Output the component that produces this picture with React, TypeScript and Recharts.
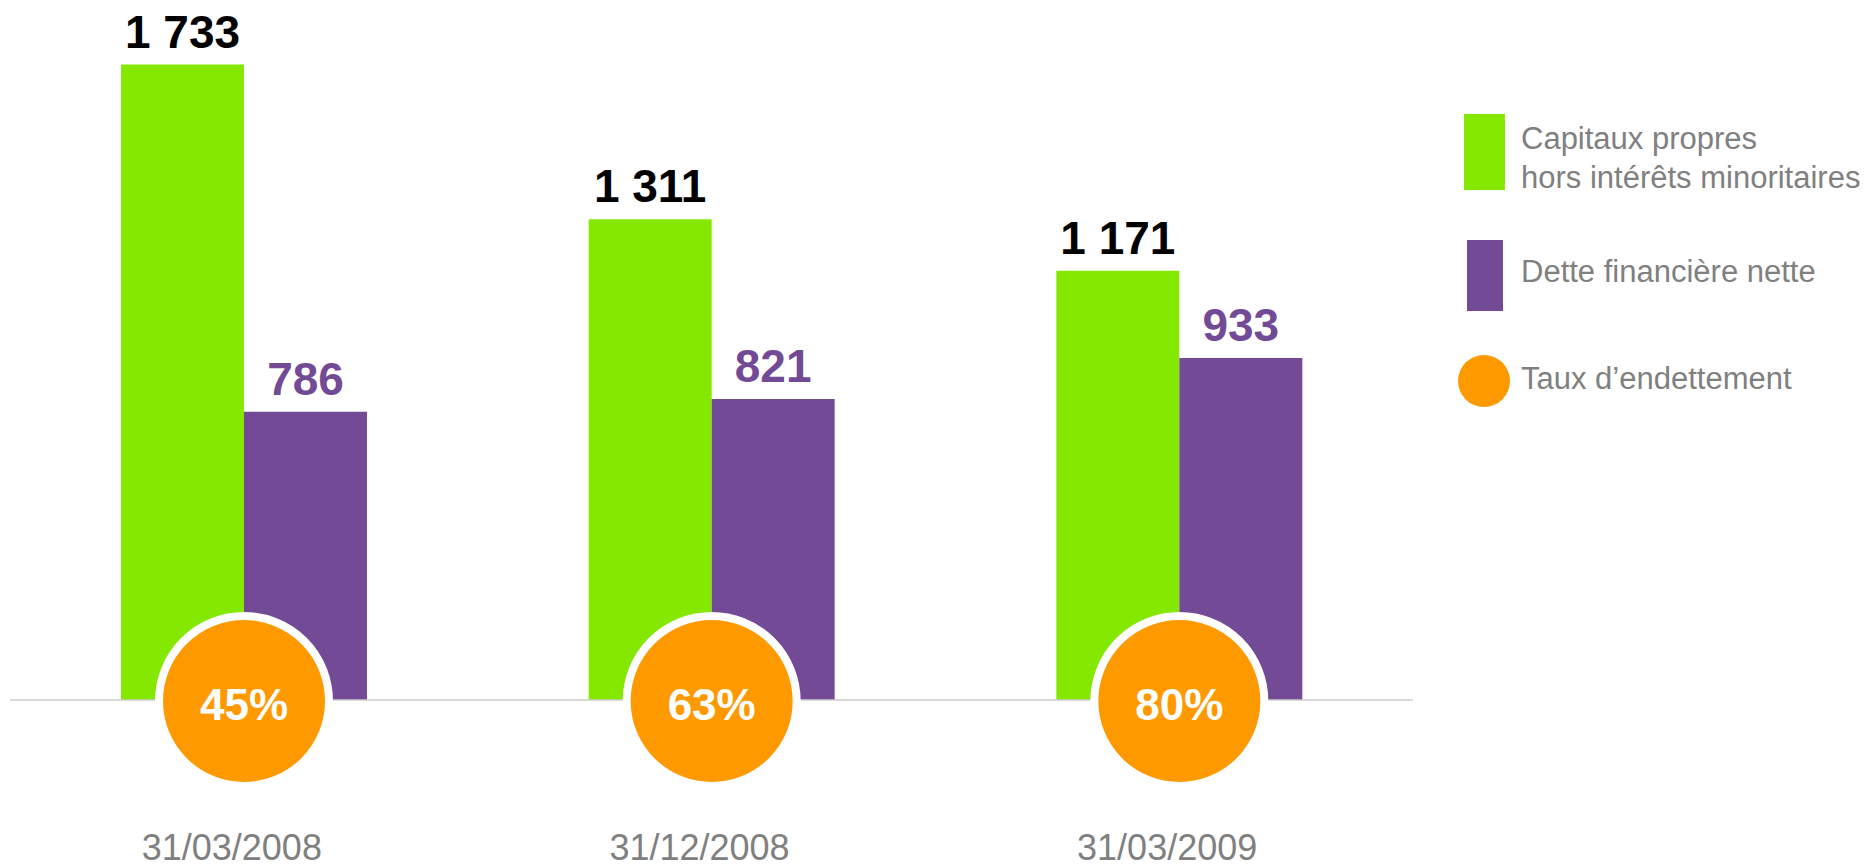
import { BarChart, Bar, XAxis, YAxis, LabelList, Legend } from 'recharts';

const categories = ['31/03/2008', '31/12/2008', '31/03/2009'];
const capitauxPropres = [1733, 1311, 1171];
const detteNette = [786, 821, 933];
const tauxEndettement = [45, 63, 80];
const legendLabels = [
  ['Capitaux propres', 'hors intérêts minoritaires'],
  ['Dette financière nette'],
  ['Taux d’endettement'],
];

const GREEN = '#84e800';
const PURPLE = '#724a95';
const ORANGE = '#ff9900';
const GREY = '#808080';
const FONT = '"Liberation Sans", Arial, sans-serif';

const data = categories.map((date, i) => ({
  date,
  capitaux: capitauxPropres[i],
  dette: detteNette[i],
  taux: tauxEndettement[i],
}));

const fmt = (v: number) => String(v).replace(/\B(?=(\d{3})+(?!\d))/g, ' ');

function ValueLabel({ x, y, width, value, color }: any) {
  return (
    <text
      x={Number(x) + Number(width) / 2}
      y={Number(y) - 17}
      textAnchor="middle"
      fill={color}
      fontSize={46}
      fontWeight="bold"
      fontFamily={FONT}
    >
      {fmt(Number(value))}
    </text>
  );
}

function TauxBubble({ x, y, height, value }: any) {
  const cx = Number(x);
  const cy = Number(y) + Number(height) + 1;
  return (
    <g>
      <circle cx={cx} cy={cy} r={85} fill={ORANGE} stroke="#fff" strokeWidth={8} />
      <text
        x={cx}
        y={cy + 19}
        textAnchor="middle"
        fill="#fff"
        fontSize={44}
        fontWeight="bold"
        fontFamily={FONT}
      >
        {value}%
      </text>
    </g>
  );
}

function DateTick({ x, y, payload }: any) {
  return (
    <text x={x - 12} y={y + 152} textAnchor="middle" fill={GREY} fontSize={36} fontFamily={FONT}>
      {payload.value}
    </text>
  );
}

function CustomLegend() {
  return (
    <svg width={436} height={320} style={{ display: 'block' }}>
      <rect x={24} y={14} width={41} height={76} fill={GREEN} />
      <text x={81} y={49} fill={GREY} fontSize={31} fontFamily={FONT}>
        {legendLabels[0][0]}
      </text>
      <text x={81} y={88} fill={GREY} fontSize={31} fontFamily={FONT}>
        {legendLabels[0][1]}
      </text>
      <rect x={27} y={140} width={36} height={71} fill={PURPLE} />
      <text x={81} y={182} fill={GREY} fontSize={31} fontFamily={FONT}>
        {legendLabels[1][0]}
      </text>
      <circle cx={44} cy={281} r={26} fill={ORANGE} />
      <text x={81} y={289} fill={GREY} fontSize={31} fontFamily={FONT}>
        {legendLabels[2][0]}
      </text>
    </svg>
  );
}

export default function App() {
  return (
    <div style={{ position: 'absolute', left: 0, top: 0, width: 1876, height: 867, background: '#fff' }}>
      <BarChart
        width={1876}
        height={867}
        data={data}
        margin={{ top: 40, right: 463, bottom: 47, left: 10 }}
        barGap={0}
        barSize={123}
      >
        <XAxis
          dataKey="date"
          height={120}
          axisLine={{ stroke: '#cccccc', strokeWidth: 1.5 }}
          tickLine={false}
          tick={<DateTick />}
          interval={0}
        />
        <YAxis hide domain={[0, 1800]} />
        <Legend
          layout="horizontal"
          verticalAlign="middle"
          align="center"
          content={<CustomLegend />}
          wrapperStyle={{ left: 1440, top: 100, width: 436, height: 320 }}
        />
        <Bar dataKey="capitaux" fill={GREEN} isAnimationActive={false}>
          <LabelList dataKey="capitaux" content={<ValueLabel color="#000" />} />
        </Bar>
        <Bar dataKey="dette" fill={PURPLE} isAnimationActive={false}>
          <LabelList dataKey="dette" content={<ValueLabel color={PURPLE} />} />
          <LabelList dataKey="taux" content={<TauxBubble />} />
        </Bar>
      </BarChart>
    </div>
  );
}
